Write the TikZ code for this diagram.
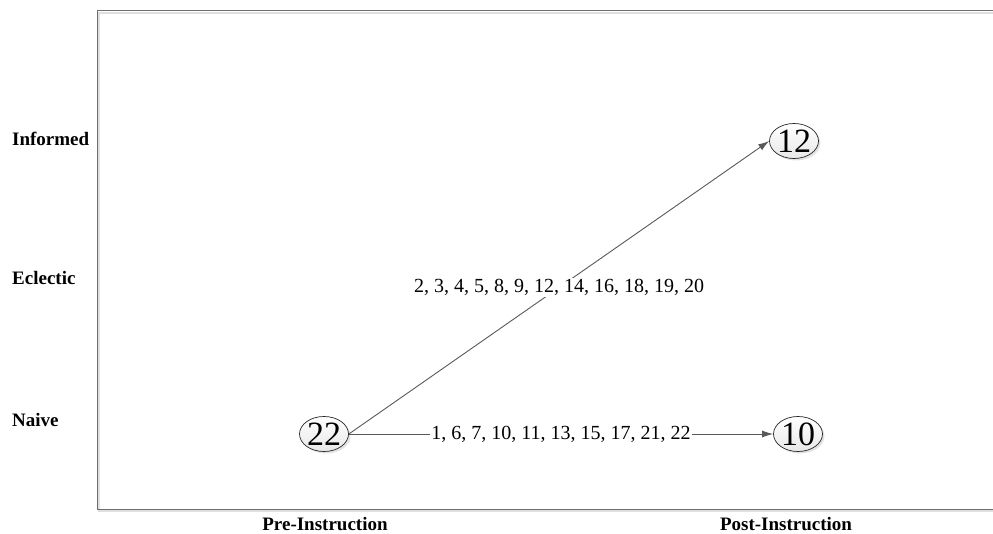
\documentclass[tikz,border=0pt]{standalone}
\usepackage{fontspec}
\setmainfont{Liberation Serif}
\usepackage{tikz}
\usetikzlibrary{arrows.meta,shapes.geometric,shadows}
\definecolor{edgegray}{HTML}{595959}
\definecolor{framegray}{HTML}{6E6E6E}

\begin{document}
\begin{tikzpicture}[x=1pt, y=-1pt,
  cnt/.style={ellipse, draw=black!85, line width=0.7pt, inner sep=0pt,
    minimum width=49pt, minimum height=35pt,
    top color=white, bottom color=gray!18,
    drop shadow={shadow xshift=2pt, shadow yshift=-2pt, fill=gray!45},
    font=\fontsize{34}{34}\selectfont},
  lvl/.style={anchor=west, inner sep=0pt, font=\fontsize{19}{20}\selectfont\bfseries},
  phase/.style={font=\fontsize{19}{20}\selectfont\bfseries},
  flow/.style={draw=edgegray, line width=0.9pt,
    -{Latex[length=11pt, width=7pt]}},
  ids/.style={fill=white, inner sep=1pt, font=\fontsize{20}{22}\selectfont}]
\useasboundingbox (0,0) rectangle (993,534);
% ---------------- frame ----------------
\draw[gray!25, line width=2pt] (993,13) -- (99,13) -- (99,511) -- (993,511);
\draw[framegray, line width=1pt] (993,11) -- (97,11) -- (97,509) -- (993,509);
% ---------------- levels ----------------
\node[lvl] (linf) at (12,139) {Informed};
\node[lvl] (lecl) at (12,278) {Eclectic};
\node[lvl] (lnai) at (12,420) {Naive};
\node[phase] (ppre) at (325,524) {Pre-Instruction};
\node[phase] (ppost) at (786,524) {Post-Instruction};
% ---------------- counts ----------------
\node[cnt] (pre) at (324,434) {22};
\node[cnt] (postinf) at (794,141) {12};
\node[cnt] (postnai) at (798,434) {10};
% ---------------- transitions ----------------
\draw[flow] (pre.east) -- (postinf.west)
  node[ids, pos=0.5] {2, 3, 4, 5, 8, 9, 12, 14, 16, 18, 19, 20};
\draw[flow] (pre.east) -- (postnai.west)
  node[ids, pos=0.5] {1, 6, 7, 10, 11, 13, 15, 17, 21, 22};
\end{tikzpicture}
\end{document}
